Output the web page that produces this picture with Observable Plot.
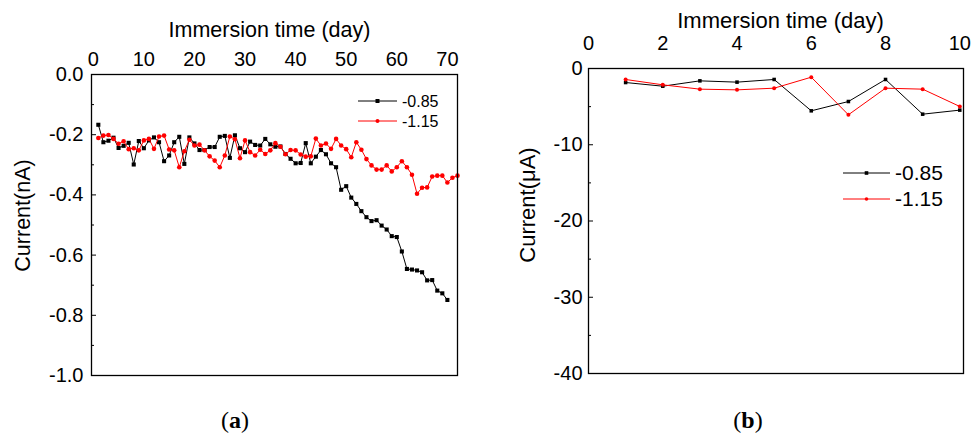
<!DOCTYPE html>
<html><head><meta charset="utf-8">
<script src="https://cdn.jsdelivr.net/npm/d3@7"></script>
<script src="https://cdn.jsdelivr.net/npm/@observablehq/plot@0.6"></script>
<style>
html,body{margin:0;padding:0;background:#fff;}
#wrap{position:relative;width:971px;height:434px;overflow:hidden;font-family:"Liberation Sans",Arial,sans-serif;}
#wrap > svg{position:absolute;top:0;}
</style></head><body><div id="wrap"></div>
<script>
// ---------- Panel (a) data: current (nA) vs immersion day ----------
const daysA085 = d3.range(1, 71);
const currA085 = [-0.167,-0.225,-0.220,-0.210,-0.244,-0.237,-0.227,-0.299,-0.221,-0.245,
  -0.219,-0.209,-0.225,-0.288,-0.269,-0.225,-0.207,-0.297,-0.209,-0.229,
  -0.251,-0.251,-0.241,-0.241,-0.207,-0.204,-0.277,-0.202,-0.245,-0.258,
  -0.223,-0.234,-0.236,-0.214,-0.232,-0.240,-0.239,-0.264,-0.280,-0.295,
  -0.294,-0.228,-0.295,-0.273,-0.251,-0.265,-0.295,-0.308,-0.383,-0.371,
  -0.409,-0.430,-0.454,-0.474,-0.487,-0.484,-0.502,-0.515,-0.537,-0.540,
  -0.588,-0.646,-0.648,-0.651,-0.657,-0.684,-0.683,-0.718,-0.727,-0.749];
const daysA115 = d3.range(1, 73);
const currA115 = [-0.211,-0.203,-0.201,-0.214,-0.230,-0.222,-0.248,-0.245,-0.252,-0.219,
  -0.214,-0.247,-0.206,-0.203,-0.249,-0.252,-0.308,-0.255,-0.217,-0.236,
  -0.233,-0.252,-0.272,-0.286,-0.308,-0.269,-0.206,-0.215,-0.278,-0.219,
  -0.258,-0.269,-0.250,-0.264,-0.252,-0.228,-0.240,-0.265,-0.251,-0.252,
  -0.266,-0.273,-0.272,-0.213,-0.236,-0.229,-0.247,-0.214,-0.236,-0.248,
  -0.275,-0.225,-0.250,-0.281,-0.302,-0.316,-0.316,-0.302,-0.322,-0.308,
  -0.288,-0.308,-0.333,-0.396,-0.376,-0.375,-0.339,-0.336,-0.336,-0.359,
  -0.343,-0.336];
const xTicksA = [0,10,20,30,40,50,60,70];
const yTicksA = [0,-0.2,-0.4,-0.6,-0.8,-1.0];
const yMinorA = [-0.1,-0.3,-0.5,-0.7,-0.9];

// ---------- Panel (b) data: current (µA) vs immersion day ----------
const daysB = [1,2,3,4,5,6,7,8,9,10];
const currB085 = [-1.84,-2.32,-1.62,-1.79,-1.44,-5.55,-4.33,-1.44,-5.99,-5.46];
const currB115 = [-1.44,-2.14,-2.71,-2.80,-2.58,-1.14,-6.07,-2.58,-2.71,-4.98];
const xTicksB = [0,2,4,6,8,10];
const yTicksB = [0,-10,-20,-30,-40];
const yMinorB = [-5,-15,-25,-35];

const seriesNames = ["-0.85","-1.15"];
const seriesColors = ["#000000","#ff0000"];
const xTitle = "Immersion time (day)";
const yTitleA = "Current(nA)";
const yTitleB = "Current(\u03bcA)";
const captions = ["a","b"];

const FONT = "Liberation Sans, Arial, sans-serif";

function table(days, vals){ return days.map((d,i)=>({day:d, v:vals[i]})); }

function panel(o){
  const s085 = table(o.days085, o.v085);
  const s115 = table(o.days115, o.v115);
  return Plot.plot({
    width:o.width, height:434,
    marginLeft:o.ml, marginRight:o.mr, marginTop:o.mt, marginBottom:o.mb,
    style:{fontFamily:FONT, background:"transparent", overflow:"visible", color:"#000"},
    x:{domain:o.xDomain}, y:{domain:o.yDomain},
    marks:[
      Plot.axisX({anchor:"top", ticks:o.xTicks, tickSize:0, tickPadding:o.xPad, fontSize:o.tickFont, label:null, tickFormat:d=>String(d)}),
      Plot.axisY({anchor:"left", ticks:o.yTicks, tickSize:0, tickPadding:o.yPad, fontSize:o.tickFont, label:null, tickFormat:o.yFmt}),
      Plot.axisY({anchor:"left", ticks:o.yTicks, tickSize:-5, tickFormat:()=>"", label:null}),
      Plot.axisY({anchor:"left", ticks:o.yMinor, tickSize:-3, tickFormat:()=>"", label:null}),
      Plot.line(s085, {x:"day", y:"v", stroke:seriesColors[0], strokeWidth:1}),
      Plot.dot(s085, {x:"day", y:"v", symbol:"square", r:o.r, fill:seriesColors[0], stroke:"none"}),
      Plot.line(s115, {x:"day", y:"v", stroke:seriesColors[1], strokeWidth:1}),
      Plot.dot(s115, {x:"day", y:"v", symbol:"circle", r:o.r, fill:seriesColors[1], stroke:"none"}),
      Plot.frame({stroke:"#000", strokeWidth:1.3}),
      Plot.text([xTitle], {text:d=>d, frameAnchor:"top", dx:o.tdx, dy:o.tdy, fontSize:o.titleFont, textAnchor:"middle", lineAnchor:"middle"}),
      Plot.text([o.yTitle], {text:d=>d, frameAnchor:"left", rotate:-90, dx:o.ydx, dy:o.ydy, fontSize:o.titleFont, textAnchor:"middle", lineAnchor:"middle"})
    ]
  });
}

const wrap = document.getElementById("wrap");

const pa = panel({
  width:485, ml:91, mr:28, mt:74, mb:59,
  xDomain:[-0.35,72], yDomain:[-1,0],
  days085:daysA085, v085:currA085, days115:daysA115, v115:currA115,
  xTicks:xTicksA, yTicks:yTicksA, yMinor:yMinorA, yFmt:d=>d.toFixed(1),
  xPad:9, yPad:8, tickFont:20, titleFont:21.5, r:2.3,
  tdx:-5, tdy:-44, yTitle:yTitleA, ydx:-68, ydy:-9.5
});
pa.style.left = "0px";
wrap.appendChild(pa);

const pb = panel({
  width:486, ml:103, mr:8, mt:68, mb:61,
  xDomain:[0,10.1], yDomain:[-40,0],
  days085:daysB, v085:currB085, days115:daysB, v115:currB115,
  xTicks:xTicksB, yTicks:yTicksB, yMinor:yMinorB, yFmt:d=>String(d),
  xPad:19, yPad:6, tickFont:20, titleFont:22, r:2,
  tdx:4.5, tdy:-48, yTitle:yTitleB, ydx:-61, ydy:-16
});
pb.style.left = "485px";
wrap.appendChild(pb);

// ---------- legends and panel captions (overlay) ----------
const ov = d3.create("svg").attr("width",971).attr("height",434)
  .style("left","0px").style("pointer-events","none");
function legend(x1, x2, tx, ys, fs, r){
  seriesNames.forEach((name,i)=>{
    const y = ys[i], c = seriesColors[i], mx = (x1+x2)/2;
    ov.append("line").attr("x1",x1).attr("x2",x2).attr("y1",y).attr("y2",y).attr("stroke",c).attr("stroke-width",1);
    if(i===0) ov.append("rect").attr("x",mx-r).attr("y",y-r).attr("width",2*r).attr("height",2*r).attr("fill",c);
    else ov.append("circle").attr("cx",mx).attr("cy",y).attr("r",r).attr("fill",c);
    ov.append("text").attr("x",tx).attr("y",y).attr("dy","0.35em").attr("font-size",fs)
      .attr("font-family",FONT).attr("fill","#000").text(name);
  });
}
legend(358, 397, 402, [101,121], 16, 2);
legend(843, 890, 895, [173,199], 21, 1.8);

[[235, captions[0]],[748, captions[1]]].forEach(([x,l])=>{
  const t = ov.append("text").attr("x",x).attr("y",428).attr("text-anchor","middle")
    .attr("font-family","Liberation Serif, 'Times New Roman', serif").attr("font-size",24).attr("fill","#000");
  t.append("tspan").text("(");
  t.append("tspan").attr("font-weight","bold").text(l);
  t.append("tspan").text(")");
});
wrap.appendChild(ov.node());
</script>
</body></html>
